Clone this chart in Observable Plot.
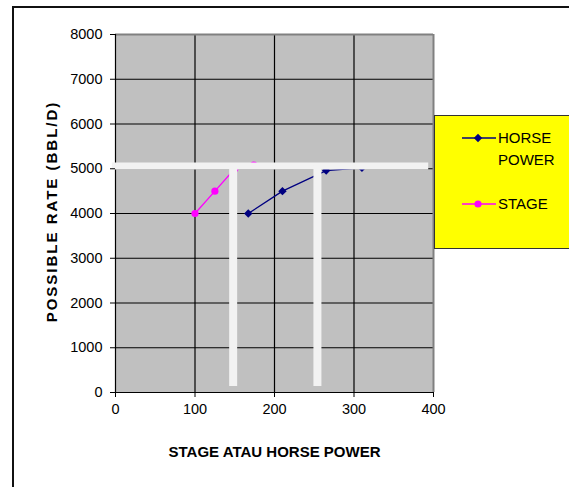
<!DOCTYPE html>
<html>
<head>
<meta charset="utf-8">
<script src="https://cdn.jsdelivr.net/npm/d3@7"></script>
<script src="https://cdn.jsdelivr.net/npm/@observablehq/plot@0.6"></script>
<style>
  html, body { margin: 0; padding: 0; background: #fff; }
  #wrap { position: relative; width: 569px; height: 487px; overflow: hidden; background: #fff;
          font-family: "Liberation Sans", Arial, sans-serif; }
  #outer { position: absolute; left: 12px; top: 6px; width: 700px; height: 700px;
           border: 2px solid #111; box-sizing: border-box; }
  #chart { position: absolute; left: 0; top: 0; }
  #legend { position: absolute; left: 434px; top: 115px; width: 200px; height: 134px;
            background: #ffff00; border: 1.5px solid #333; box-sizing: border-box; }
  .swatch { position: absolute; left: 462px; width: 34px; height: 12px; }
  .ltext { position: absolute; left: 498px; font-size: 15px; line-height: 22px; color: #000; }
</style>
</head>
<body>
<div id="wrap">
  <div id="outer"></div>
  <div id="chart"></div>
  <div id="legend"></div>
  <svg class="swatch" style="top:132px" viewBox="0 0 34 12">
    <line x1="0" x2="34" y1="6" y2="6" stroke="#000080" stroke-width="1.3"/>
    <path d="M16,1.8L20.2,6L16,10.2L11.8,6Z" fill="#000080"/>
  </svg>
  <div class="ltext" style="top:127px">HORSE<br>POWER</div>
  <svg class="swatch" style="top:198px" viewBox="0 0 34 12">
    <line x1="0" x2="34" y1="6" y2="6" stroke="#ff00ff" stroke-width="1.3"/>
    <circle cx="16" cy="6" r="3.6" fill="#ff00ff"/>
  </svg>
  <div class="ltext" style="top:193px">STAGE</div>
</div>
<script>
// Pump sizing curves: possible rate against number of stages / horse power
const stageX = [100, 125, 150, 174];
const stageRate = [4000, 4500, 5000, 5080];
const hpX = [167, 210, 265, 310];
const hpRate = [4000, 4500, 4960, 5020];

// Axis ticks
const xTicks = [0, 100, 200, 300, 400];
const yTicks = [0, 1000, 2000, 3000, 4000, 5000, 6000, 7000, 8000];

// Highlight guides: target-rate line and the two read-off verticals
const cutoffRate = [5060];
const cutoffSpan = [-4, 394];
const cutoffX = [148, 254];
const cutoffFloor = [134];

const yTitle = "POSSIBLE RATE (BBL/D)";
const xTitle = "STAGE ATAU HORSE POWER";

const stage = stageX.map((x, i) => ({x, y: stageRate[i]}));
const hp = hpX.map((x, i) => ({x, y: hpRate[i]}));

const guide = "#f2f2f2";

const chart = Plot.plot({
  width: 569,
  height: 487,
  marginLeft: 115,
  marginRight: 136,
  marginTop: 34,
  marginBottom: 95,
  style: {fontFamily: "'Liberation Sans', Arial, sans-serif", fontSize: "14.5px", color: "#000", background: "transparent"},
  x: {domain: [0, 400]},
  y: {domain: [0, 8000]},
  marks: [
    Plot.frame({fill: "#c0c0c0"}),
    Plot.gridX({ticks: xTicks.slice(1, -1), stroke: "#000", strokeOpacity: 1, strokeWidth: 1.2}),
    Plot.gridY({ticks: yTicks.slice(1, -1), stroke: "#000", strokeOpacity: 1, strokeWidth: 1.2}),
    Plot.ruleY([yTicks[yTicks.length - 1]], {stroke: "#808080", strokeWidth: 2}),
    Plot.ruleX([xTicks[xTicks.length - 1]], {stroke: "#808080", strokeWidth: 2}),
    Plot.ruleX([0], {stroke: "#000", strokeWidth: 1.2}),
    Plot.ruleY([0], {stroke: "#000", strokeWidth: 1.2}),
    Plot.line(stage, {x: "x", y: "y", stroke: "#ff00ff", strokeWidth: 1.3}),
    Plot.dot(stage, {x: "x", y: "y", r: 3.6, fill: "#ff00ff"}),
    Plot.line(hp, {x: "x", y: "y", stroke: "#000080", strokeWidth: 1.3}),
    Plot.dot(hp, {x: "x", y: "y", r: 3.8, symbol: "diamond2", fill: "#000080"}),
    Plot.ruleY(cutoffRate, {x1: cutoffSpan[0], x2: cutoffSpan[1], stroke: guide, strokeWidth: 7}),
    Plot.ruleX(cutoffX, {y1: cutoffFloor[0], y2: cutoffRate[0], stroke: guide, strokeWidth: 8}),
    Plot.axisY({ticks: yTicks, tickSize: 5, tickPadding: 8, tickFormat: "d", label: null}),
    Plot.axisX({ticks: xTicks, tickSize: 5, tickPadding: 6, tickFormat: "d", label: null}),
    Plot.text([yTitle], {frameAnchor: "left", dx: -63, dy: -2, rotate: -90,
      textAnchor: "middle", lineAnchor: "middle", fontWeight: "bold", fontSize: 15}),
    Plot.text([xTitle], {frameAnchor: "bottom", dy: 60, lineAnchor: "middle",
      fontWeight: "bold", fontSize: 15})
  ]
});

// Widen the rotated axis title's tracking
d3.select(chart).selectAll("text")
  .filter(function() { return this.textContent === yTitle; })
  .style("letter-spacing", "2px");
document.getElementById("chart").appendChild(chart);
</script>
</body>
</html>
